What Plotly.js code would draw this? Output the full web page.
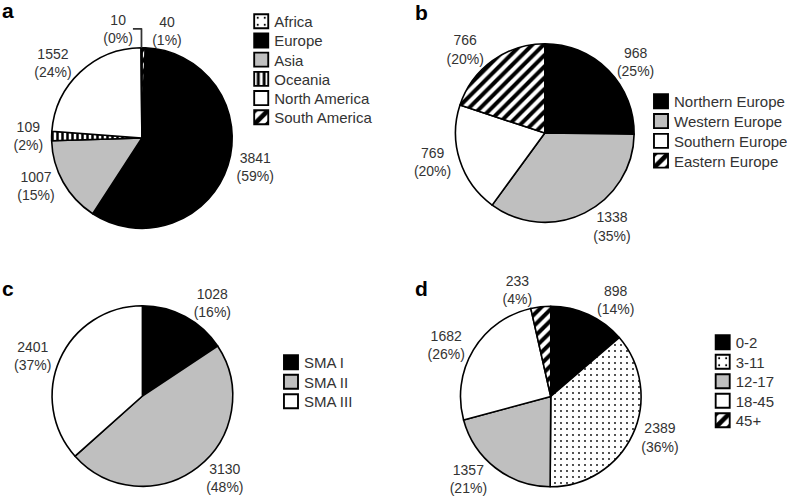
<!DOCTYPE html>
<html>
<head>
<meta charset="utf-8">
<script src="https://cdn.plot.ly/plotly-3.0.1.min.js"></script>
<style>html,body{margin:0;padding:0;background:#fff;}#chart{width:787px;height:497px;}</style>
</head>
<body>
<div id="chart"></div>
<script>
// ---- data ----
// legend order
const continentLabels = ["Africa", "Europe", "Asia", "Oceania", "North America", "South America"];
const continentValues = [10, 3841, 1007, 109, 1552, 40];
// clockwise order of the slices, starting at 12 o'clock
const continentSliceOrder = ["South America", "Europe", "Asia", "Oceania", "North America", "Africa"];

const europeLabels = ["Northern Europe", "Western Europe", "Southern Europe", "Eastern Europe"];
const europeValues = [968, 1338, 769, 766];

const smaLabels = ["SMA I", "SMA II", "SMA III"];
const smaValues = [1028, 3130, 2401];

const ageLabels = ["0-2", "3-11", "12-17", "18-45", "45+"];
const ageValues = [898, 2389, 1357, 1682, 233];

// ---- styles ----
const W = 787, H = 497;
const BLACK = "#000000", GREY = "#bfbfbf", WHITE = "#ffffff";
const TXT = "#333333";
const FONT = "Liberation Sans, Arial, sans-serif";

function dom(cx, cy, r) {
  return { x: [(cx - r) / W, (cx + r) / W], y: [1 - (cy + r) / H, 1 - (cy - r) / H] };
}
function pieTrace(labels, values, colors, patterns, domain, legend, rotation) {
  return {
    type: "pie",
    labels: labels,
    values: values,
    sort: false,
    direction: "clockwise",
    rotation: rotation || 0,
    domain: domain,
    legend: legend,
    marker: {
      colors: colors,
      pattern: {
        shape: patterns.map(p => p.shape),
        size: patterns.map(p => p.size),
        solidity: patterns.map(p => p.solidity),
        fgcolor: BLACK,
        fgopacity: 1,
        bgcolor: colors,
        fillmode: "overlay"
      },
      line: { color: BLACK, width: 1.6 }
    },
    textposition: "outside",
    texttemplate: "%{value}<br>(%{percent:.0%})",
    outsidetextfont: { family: FONT, size: 14, color: TXT },
    hoverinfo: "label+value+percent"
  };
}
const P = (shape, size, solidity) => ({ shape: shape, size: size, solidity: solidity });
const NONE = P("", 8, 0.3);
const DOTS = P(".", 6, 0.07);
const HATCH = P("/", 8, 0.5);
const VSTRIPE = P("|", 5, 0.5);

const continentStyle = {
  "Africa": [WHITE, DOTS], "Europe": [BLACK, NONE], "Asia": [GREY, NONE],
  "Oceania": [WHITE, VSTRIPE], "North America": [WHITE, NONE], "South America": [WHITE, HATCH]
};
const aVals = continentSliceOrder.map(l => continentValues[continentLabels.indexOf(l)]);

const traces = [
  pieTrace(continentSliceOrder, aVals,
    continentSliceOrder.map(l => continentStyle[l][0]),
    continentSliceOrder.map(l => continentStyle[l][1]),
    dom(143, 138, 91), "legend", 0),
  pieTrace(europeLabels, europeValues,
    [BLACK, GREY, WHITE, WHITE],
    [NONE, NONE, NONE, HATCH],
    dom(549, 133, 90), "legend2", 0),
  pieTrace(smaLabels, smaValues,
    [BLACK, GREY, WHITE],
    [NONE, NONE, NONE],
    dom(143.5, 396, 91), "legend3", 0),
  pieTrace(ageLabels, ageValues,
    [BLACK, WHITE, GREY, WHITE, WHITE],
    [NONE, DOTS, NONE, NONE, HATCH],
    dom(555, 396.5, 91), "legend4", 0)
];

function leg(x, y) {
  return { x: x / W, y: 1 - y / H, xanchor: "left", yanchor: "top", bgcolor: "rgba(0,0,0,0)",
    font: { family: FONT, size: 15, color: TXT }, itemclick: false, itemdoubleclick: false };
}
function letter(t, x, y) {
  return { text: "<b>" + t + "</b>", x: x / W, y: 1 - y / H, xref: "paper", yref: "paper",
    xanchor: "left", yanchor: "middle", showarrow: false, font: { family: FONT, size: 21, color: BLACK } };
}

const layout = {
  width: W, height: H,
  margin: { l: 0, r: 0, t: 0, b: 0 },
  paper_bgcolor: WHITE,
  showlegend: true,
  legend: leg(234, 5),
  legend2: leg(633, 85),
  legend3: leg(264, 346),
  legend4: leg(696, 326),
  annotations: [letter("a", 0, 10), letter("b", 416, 12), letter("c", 0, 288), letter("d", 416, 288)]
};

// tighter legend rows, larger symbols, small horizontal nudges and the legend order of the reference figure
const rowGap = { legend: 19.2, legend2: 19.8, legend3: 19.5, legend4: 19.5 };
const nudgeX = { legend: 2, legend2: 6, legend3: 2, legend4: 5 };
const legendOrder = { legend: continentLabels, legend2: europeLabels, legend3: smaLabels, legend4: ageLabels };

const gd = document.getElementById("chart");
Plotly.newPlot(gd, traces, layout, { displayModeBar: false, staticPlot: true }).then(() => {
  Object.keys(rowGap).forEach(name => {
    const lg = gd.querySelector("g." + name);
    if (!lg) return;
    const items = Array.from(lg.querySelectorAll("g.traces"));
    let x0 = null, y0 = null;
    items.forEach((it, i) => {
      const m = /translate\(\s*([-\d.e]+)[ ,]+([-\d.e]+)/.exec(it.getAttribute("transform") || "");
      if (i === 0) { x0 = m ? parseFloat(m[1]) : 0; y0 = m ? parseFloat(m[2]) : 0; }
    });
    items.forEach((it, i) => {
      const t = it.querySelector("text.legendtext");
      const label = t ? t.textContent : "";
      let k = legendOrder[name].indexOf(label);
      if (k < 0) k = i;
      it.setAttribute("transform", "translate(" + (x0 + nudgeX[name]) + "," + (y0 + k * rowGap[name]) + ")");
      it.querySelectorAll("path.legendpie").forEach(p => {
        p.setAttribute("transform", "translate(27,0) scale(1.17)");
      });
    });
  });
});
</script>
</body>
</html>
